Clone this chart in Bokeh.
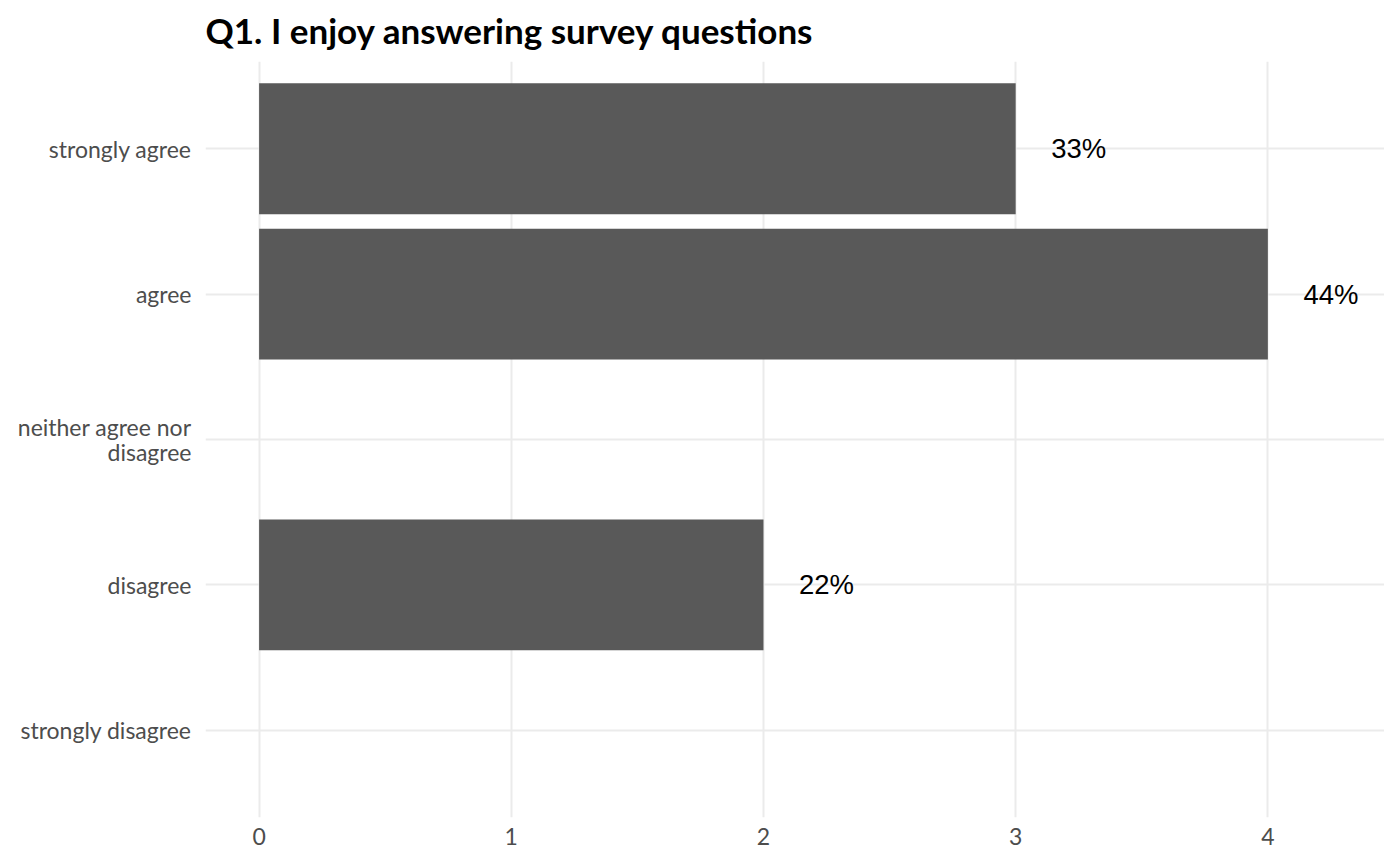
from bokeh.plotting import figure
from bokeh.models import FactorRange, Range1d, FixedTicker, ColumnDataSource
from bokeh.core.properties import value
from bokeh.embed import file_html
from bokeh.resources import INLINE

categories = ["strongly disagree", "disagree", "neither agree nor\ndisagree", "agree", "strongly agree"]
counts = [0, 2, 0, 4, 3]
label_cats = ["disagree", "agree", "strongly agree"]
label_counts = [2, 4, 3]
label_texts = ["22%", "44%", "33%"]
label_offset = 0.25
x_ticks = [0, 1, 2, 3, 4]

p = figure(
    width=1384, height=858,
    y_range=FactorRange(factors=categories, range_padding=0.1, range_padding_units="absolute"),
    x_range=Range1d(-0.2125, 4.4625),
    output_backend="svg", toolbar_location=None,
    title="Q1. I enjoy answering survey questions",
)
p.min_border_left = 205
p.min_border_right = 0
p.min_border_top = 60
p.min_border_bottom = 41
p.outline_line_color = None
p.background_fill_color = "white"
p.border_fill_color = "white"

p.title.text_font = "Lato"
p.title.text_font_style = "bold"
p.title.text_font_size = "35px"
p.title.text_color = "black"
p.title.align = "left"
p.title.offset = 0
p.title.standoff = 17
p.title.vertical_align = "top"

src = ColumnDataSource(dict(y=categories, right=counts))
p.hbar(y="y", left=0, right="right", height=0.9, source=src, fill_color="#595959", line_color=None)

lsrc = ColumnDataSource(dict(y=label_cats, x=[c + label_offset for c in label_counts], t=label_texts))
p.text(x="x", y="y", text="t", source=lsrc, text_align="center", text_baseline="middle",
       text_font=value("Liberation Sans"), text_font_size="27.5px", text_color="black")

for ax in (p.xaxis, p.yaxis):
    ax.axis_line_color = None
    ax.major_tick_line_color = None
    ax.minor_tick_line_color = None
    ax.major_tick_out = 0
    ax.major_tick_in = 0
    ax.major_label_text_font = "Lato"
    ax.major_label_text_font_size = "23px"
    ax.major_label_text_color = "#4D4D4D"
    ax.major_label_text_line_height = 0.9

p.xaxis.ticker = FixedTicker(ticks=x_ticks)
p.xaxis.major_label_standoff = 10
p.yaxis.major_label_standoff = 14

p.xgrid.ticker = FixedTicker(ticks=x_ticks)
p.xgrid.grid_line_color = "#EBEBEB"
p.xgrid.grid_line_width = 2
p.ygrid.grid_line_color = "#EBEBEB"
p.ygrid.grid_line_width = 2

open("out.html", "w").write(file_html(p, INLINE))
